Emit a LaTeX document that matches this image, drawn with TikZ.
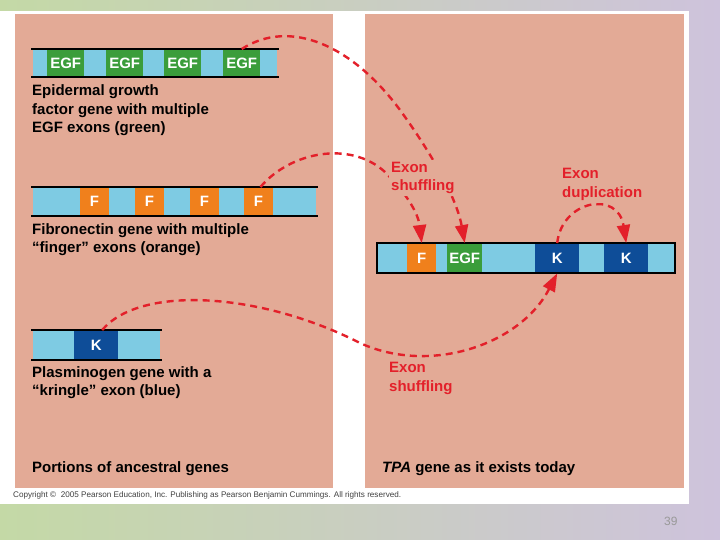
\documentclass[tikz,border=0pt]{standalone}
\usepackage{fontspec}
\setmainfont{Liberation Sans}
\usepackage{graphicx}
\usetikzlibrary{arrows.meta}
\definecolor{salmon}{HTML}{E3AA96}
\definecolor{skyblue}{HTML}{7ECBE3}
\definecolor{egfgreen}{HTML}{3B9D3B}
\definecolor{fingerorange}{HTML}{F0801C}
\definecolor{kringle}{HTML}{0E4D98}
\definecolor{shufflered}{HTML}{E3202A}
\definecolor{slidegreen}{HTML}{C4D9A6}
\definecolor{slidelilac}{HTML}{CEC3DC}

\tikzset{
  exon/.style={anchor=north west, inner sep=0pt, minimum height=28pt, text=white,
    font=\fontsize{15}{15}\selectfont\bfseries},
  % multi-line captions sit on the baseline of their last line
  caption/.style={anchor=base west, inner sep=0pt, align=left,
    font=\fontsize{15}{18.5}\selectfont\bfseries},
  redlabel/.style={caption, text=shufflered, fill=salmon, inner sep=2pt},
  move/.style={shufflered, line width=2.4pt, dash pattern=on 7pt off 5pt,
    -{Triangle[length=18pt,width=13pt]}},
  rim/.style={line width=1.2pt}
}

\begin{document}
\begin{tikzpicture}[x=1pt,y=-1pt]
  % slide and the two panels
  \shade[left color=slidegreen,right color=slidelilac] (0,0) rectangle (720,540);
  \fill[white] (0,11) rectangle (689,504);
  \fill[salmon] (15,14) rectangle (333,488);
  \fill[salmon] (365,14) rectangle (684,488);

  % epidermal growth factor gene
  \fill[skyblue] (33,49) rectangle (277,77);
  \foreach \n/\x in {1/47,2/106,3/164,4/223}
    \node[exon, fill=egfgreen, minimum width=37pt] (egf\n) at (\x,49) {EGF};
  \draw[rim] (31,49) -- (279,49) (31,77) -- (279,77);
  \node[caption] (egfcap) at (32,133) {Epidermal growth\\factor gene with multiple\\EGF exons (green)};

  % fibronectin gene
  \fill[skyblue] (33,187) rectangle (316,216);
  \foreach \n/\x in {1/80,2/135,3/190,4/244}
    \node[exon, fill=fingerorange, minimum width=28.5pt, minimum height=29pt] (fn\n) at (\x,187) {F};
  \draw[rim] (31,187) -- (318,187) (31,216) -- (318,216);
  \node[caption] (fncap) at (32,252.5) {Fibronectin gene with multiple\\``finger'' exons (orange)};

  % plasminogen gene
  \fill[skyblue] (33,330) rectangle (160,360);
  \node[exon, fill=kringle, minimum width=44pt, minimum height=30pt] (pk) at (74,330) {K};
  \draw[rim] (31,330) -- (162,330) (31,360) -- (162,360);
  \node[caption] (pkcap) at (32,395.5) {Plasminogen gene with a\\``kringle'' exon (blue)};

  \node[caption] (oldcap) at (32,472) {Portions of ancestral genes};

  % TPA gene
  \fill[skyblue] (377,243) rectangle (675,273);
  \node[exon, fill=fingerorange, minimum width=29pt, minimum height=30pt] (tf) at (407,243) {F};
  \node[exon, fill=egfgreen, minimum width=35pt, minimum height=30pt] (tegf) at (447,243) {EGF};
  \node[exon, fill=kringle, minimum width=44pt, minimum height=30pt] (tk1) at (535,243) {K};
  \node[exon, fill=kringle, minimum width=44pt, minimum height=30pt] (tk2) at (604,243) {K};
  \draw[line width=1.5pt] (377,243) rectangle (675,273);
  \node[caption] (tpacap) at (382,472) {\textit{TPA} gene as it exists today};

  % exon shuffling and duplication
  \draw[move] (egf4.north) .. controls (290,18) and (352,45) .. (400,110)
    .. controls (440,165) and (458,205) .. (tegf.north);
  \draw[move] ([xshift=2pt]fn4.north) .. controls (290,152) and (350,140) .. (385,172)
    .. controls (405,192) and (418,212) .. (tf.north);
  \draw[move] ([xshift=6pt]pk.north) .. controls (140,285) and (260,292) .. (360,343)
    .. controls (430,375) and (520,345) .. (tk1.south);
  \draw[move] (tk1.north) .. controls (562,200) and (618,190) .. (tk2.north);

  \node[redlabel] (shuf1) at (389,191) {Exon\\shuffling};
  \node[redlabel] (dup) at (560,197.5) {Exon\\duplication};
  \node[redlabel] (shuf2) at (387,391) {Exon\\shuffling};

  \node[anchor=base west, inner sep=0pt, text=black!75] (copy) at (13,497)
    {\resizebox{388pt}{!}{Copyright © \ 2005 Pearson Education, Inc. Publishing as Pearson Benjamin Cummings. All rights reserved.}};
  \node[anchor=base west, inner sep=0pt, text=black!40] (pageno) at (664,525)
    {\fontsize{12}{12}\selectfont 39};
\end{tikzpicture}
\end{document}
